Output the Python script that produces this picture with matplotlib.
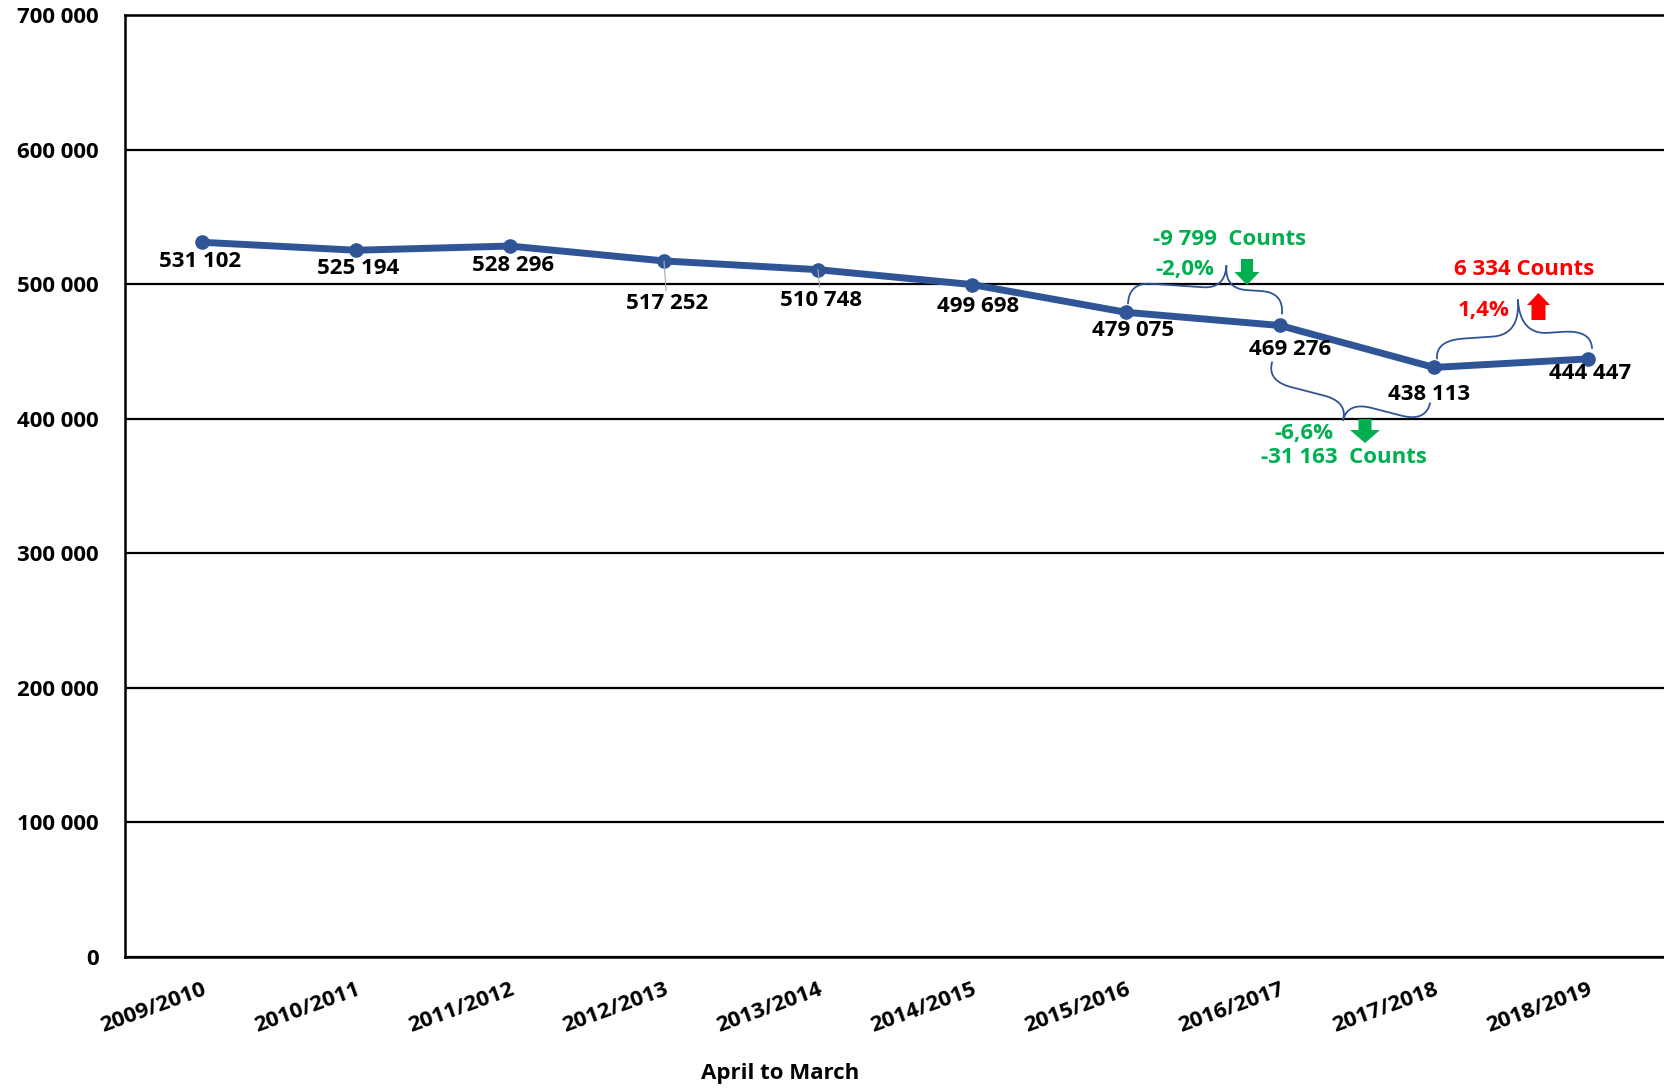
import matplotlib.pyplot as plt
import numpy as np
from matplotlib.lines import Line2D
from matplotlib.patches import Polygon
from matplotlib.transforms import IdentityTransform

plt.rcParams['font.family'] = ['Open Sans', 'DejaVu Sans']
plt.rcParams['font.weight'] = 'bold'

seasons = ["2009/2010", "2010/2011", "2011/2012", "2012/2013", "2013/2014",
           "2014/2015", "2015/2016", "2016/2017", "2017/2018", "2018/2019"]
counts = [531102, 525194, 528296, 517252, 510748, 499698, 479075, 469276, 438113, 444447]
y_ticks = [0, 100000, 200000, 300000, 400000, 500000, 600000, 700000]

change_texts = ["-9 799  Counts", "-2,0%", "-31 163  Counts", "-6,6%", "6 334 Counts", "1,4%"]

blue = '#2F5597'
green = '#00B050'
red = '#FF0000'
fs = 16


def spaced(v):
    return '{:,}'.format(v).replace(',', ' ')


fig = plt.figure(figsize=(16.65, 10.88), dpi=100)
ax = fig.add_axes([125 / 1665, 1 - 957 / 1088, 1540 / 1665, 942 / 1088])

x = np.arange(len(seasons))
ax.plot(x, counts, '-o', color=blue, lw=5, ms=9.5, zorder=3)

ax.set_xlim(-0.5, 9.5)
ax.set_ylim(0, 700000)
ax.set_yticks(y_ticks)
ax.set_yticklabels([spaced(t) for t in y_ticks])
ax.set_xticks(x)
ax.set_xticklabels(seasons, rotation=20, ha='right', rotation_mode='anchor')
ax.tick_params(axis='y', length=0, pad=19, labelsize=fs)
ax.tick_params(axis='x', length=0, pad=16, labelsize=fs)
ax.yaxis.grid(True, color='black', lw=1.6)
ax.set_axisbelow(True)
ax.spines['right'].set_visible(False)
for s in ['left', 'bottom', 'top']:
    ax.spines[s].set_linewidth(1.8)

fig.text(780 / 1665, 14 / 1088, "April to March", ha='center', va='center', fontsize=fs)

# value labels: offset from each point in pixels (right, down)
label_offsets = [(-2, 19), (2, 18.5), (3, 19.5), (3, 43), (3, 31),
                 (6, 22), (7, 18), (10, 24), (-5, 27), (2, 15)]
for i, v in enumerate(counts):
    dx, dy = label_offsets[i]
    props = None
    if i in (3, 4):
        props = dict(arrowstyle='-', color='#A6A6A6', lw=0.8, shrinkA=0, shrinkB=0)
    ax.annotate(spaced(v), xy=(i, v), xytext=(dx, -dy), textcoords='offset pixels',
                ha='center', va='center', fontsize=fs, color='black',
                arrowprops=props, zorder=4)


def at(i, dx, dy):
    X, Y = ax.transData.transform((i, counts[i]))
    return np.array([X + dx, Y - dy])


def brace(A, B, frac, h, sh, r, up=True):
    d = B - A
    L = np.hypot(*d)
    u = d / L
    n = np.array([-u[1], u[0]])
    if not up:
        n = -n
    st = frac * L

    def quad(p0, c, p1, k=20):
        t = np.linspace(0, 1, k)[:, None]
        return (1 - t) ** 2 * np.array(p0) + 2 * (1 - t) * t * np.array(c) + t ** 2 * np.array(p1)

    pts = np.vstack([
        quad((0, 0), (0, sh), (r, sh)),
        quad((st - r, sh), (st, sh), (st, h)),
        quad((st, h), (st, sh), (st + r, sh)),
        quad((L - r, sh), (L, sh), (L, 0)),
    ])
    xy = A + pts[:, :1] * u + pts[:, 1:] * n
    fig.add_artist(Line2D(xy[:, 0], xy[:, 1], color=blue, lw=1.3,
                          transform=IdentityTransform()))


def block_arrow(tail, tip, tw, hw, hl, color):
    d = tip - tail
    u = d / np.hypot(*d)
    n = np.array([-u[1], u[0]])
    base = tip - u * hl
    pts = [tail + n * tw / 2, base + n * tw / 2, base + n * hw / 2, tip,
           base - n * hw / 2, base - n * tw / 2, tail - n * tw / 2]
    fig.add_artist(Polygon(pts, closed=True, transform=IdentityTransform(),
                           facecolor=color, edgecolor='none'))


brace(at(6, 2, -9), at(7, 2, -12), 0.62, 44, 21, 22, up=True)
brace(at(7, -8, 37), at(8, -4, 36), 0.51, 38, 19, 25, up=False)
brace(at(8, 3, -9), at(9, 4, -11), 0.545, 53, 18, 28, up=True)

block_arrow(at(7, -33, -66.5), at(7, -33, -40.5), 12, 25, 13, green)
block_arrow(at(8, -69, 51.6), at(8, -69, 75.6), 13, 30, 13, green)
block_arrow(at(9, -49.5, -38.9), at(9, -49.5, -65.9), 14, 23, 12, red)

change_pos = [(7, -50, -85.5, green), (7, -95, -55.5, green),
              (8, -90, 89.6, green), (8, -130, 65.6, green),
              (9, -64, -89.9, red), (9, -104, -48.9, red)]
for txt, (i, dx, dy, c) in zip(change_texts, change_pos):
    ax.annotate(txt, xy=(i, counts[i]), xytext=(dx, -dy), textcoords='offset pixels',
                ha='center', va='center', fontsize=fs, color=c)

fig.savefig('out.png', dpi=100)
